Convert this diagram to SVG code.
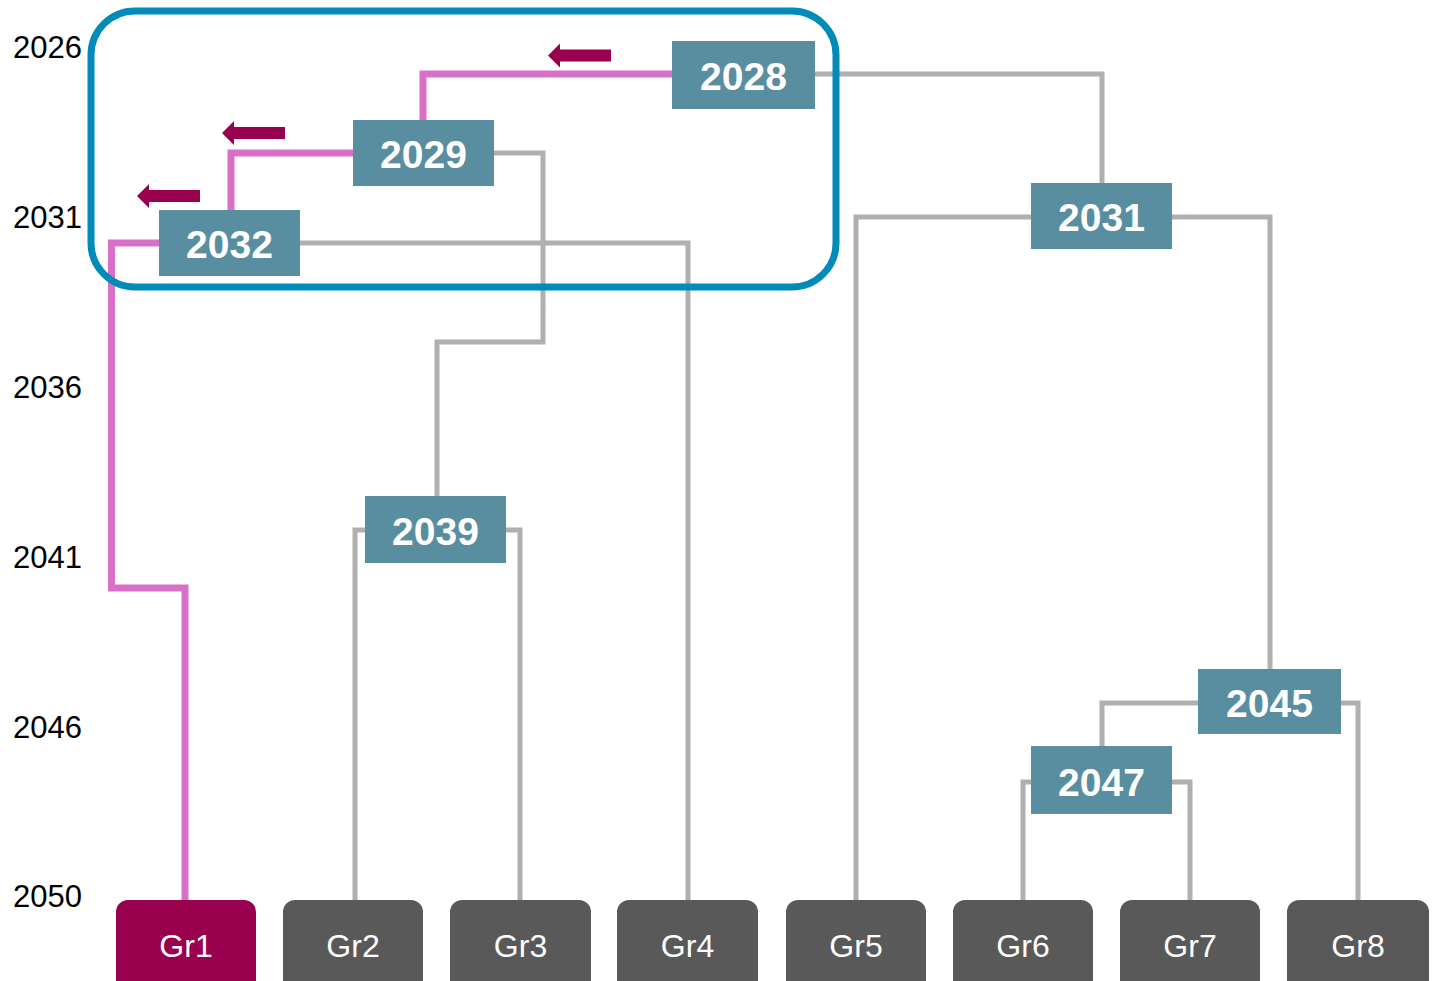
<svg xmlns="http://www.w3.org/2000/svg" width="1435" height="981" viewBox="0 0 1435 981">
<style>
.axis{font-family:"Liberation Sans",Arial,sans-serif;font-size:31px;fill:#000}
.node rect{fill:#588E9F}
.node text{font-family:"Liberation Sans",Arial,sans-serif;font-size:39px;font-weight:bold;fill:#fff;text-anchor:middle}
.leaf rect{fill:#595959}
.leaf.hl rect{fill:#99004D}
.leaf text{font-family:"Liberation Sans",Arial,sans-serif;font-size:32px;fill:#fff;text-anchor:middle}
.gray{fill:none;stroke:#B0B0B0;stroke-width:5}
.pink{fill:none;stroke:#D870C8;stroke-width:7}
.arrow{fill:#99004D}
</style>
<defs>
<path id="larrow" d="M0 0 L12 -12 V-6 H63 V6 H12 V12 Z"/>
</defs>
<rect width="1435" height="981" fill="#fff"/>
<g id="axis">
<text class="axis" x="13" y="58">2026</text>
<text class="axis" x="13" y="228">2031</text>
<text class="axis" x="13" y="398">2036</text>
<text class="axis" x="13" y="568">2041</text>
<text class="axis" x="13" y="738">2046</text>
<text class="axis" x="13" y="907">2050</text>
</g>
<g id="connectors">
<path class="gray" d="M815 74 H1102 V183"/>
<path class="gray" d="M494 153 H543 V342 H437 V496"/>
<path class="gray" d="M300 243 H688 V900"/>
<path class="gray" d="M1031 217 H856 V900"/>
<path class="gray" d="M1172 217 H1270 V669"/>
<path class="gray" d="M365 530 H355 V900"/>
<path class="gray" d="M506 530 H520 V900"/>
<path class="gray" d="M1198 703 H1102 V746"/>
<path class="gray" d="M1341 703 H1358 V900"/>
<path class="gray" d="M1031 782 H1023 V900"/>
<path class="gray" d="M1172 782 H1190 V900"/>
<path class="pink" d="M672 74 H423 V120"/>
<path class="pink" d="M353 153 H231 V210"/>
<path class="pink" d="M159 243 H111.5 V588 H185 V900"/>
</g>
<g id="highlight">
<rect x="91" y="11" width="745" height="276" rx="44" ry="44" fill="none" stroke="#008BB9" stroke-width="7"/>
</g>
<g id="arrows">
<use href="#larrow" class="arrow" x="548" y="55.5"/>
<use href="#larrow" class="arrow" x="222" y="133"/>
<use href="#larrow" class="arrow" x="137" y="196"/>
</g>
<g id="n2028" class="node"><rect x="672" y="41" width="143" height="68"/><text x="743.5" y="90">2028</text></g>
<g id="n2029" class="node"><rect x="353" y="120" width="141" height="66"/><text x="423.5" y="168">2029</text></g>
<g id="n2032" class="node"><rect x="159" y="210" width="141" height="66"/><text x="229.5" y="258">2032</text></g>
<g id="n2031" class="node"><rect x="1031" y="183" width="141" height="66"/><text x="1101.5" y="231">2031</text></g>
<g id="n2039" class="node"><rect x="365" y="496" width="141" height="67"/><text x="435.5" y="545">2039</text></g>
<g id="n2045" class="node"><rect x="1198" y="669" width="143" height="65"/><text x="1269.5" y="717">2045</text></g>
<g id="n2047" class="node"><rect x="1031" y="746" width="141" height="68"/><text x="1101.5" y="796">2047</text></g>
<g id="gr1" class="leaf hl"><rect x="116" y="900" width="140" height="100" rx="12"/><text x="186" y="957">Gr1</text></g>
<g id="gr2" class="leaf"><rect x="283" y="900" width="140" height="100" rx="12"/><text x="353" y="957">Gr2</text></g>
<g id="gr3" class="leaf"><rect x="450" y="900" width="141" height="100" rx="12"/><text x="520.5" y="957">Gr3</text></g>
<g id="gr4" class="leaf"><rect x="617" y="900" width="141" height="100" rx="12"/><text x="687.5" y="957">Gr4</text></g>
<g id="gr5" class="leaf"><rect x="786" y="900" width="140" height="100" rx="12"/><text x="856" y="957">Gr5</text></g>
<g id="gr6" class="leaf"><rect x="953" y="900" width="140" height="100" rx="12"/><text x="1023" y="957">Gr6</text></g>
<g id="gr7" class="leaf"><rect x="1120" y="900" width="140" height="100" rx="12"/><text x="1190" y="957">Gr7</text></g>
<g id="gr8" class="leaf"><rect x="1287" y="900" width="142" height="100" rx="12"/><text x="1358" y="957">Gr8</text></g>
</svg>
